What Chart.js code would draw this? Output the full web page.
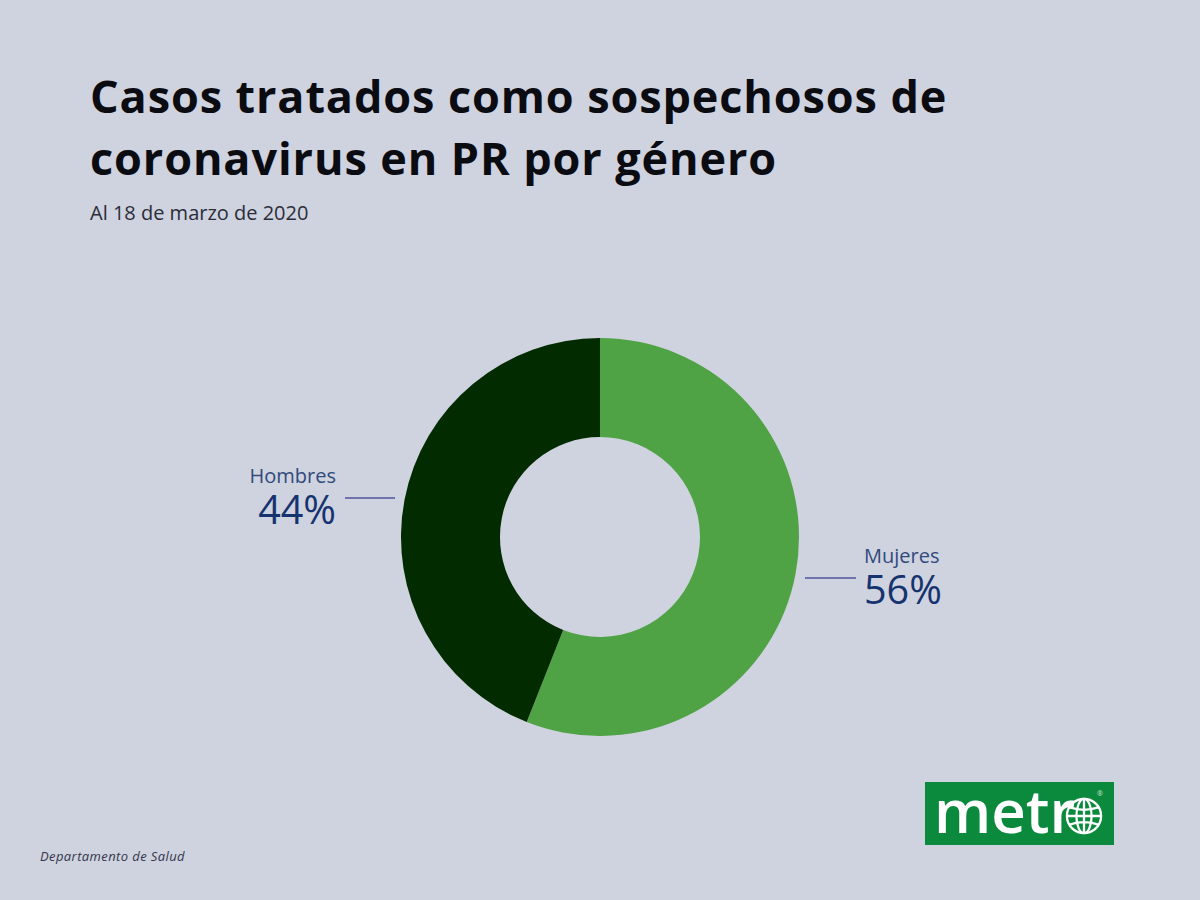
<!DOCTYPE html>
<html>
<head>
<meta charset="utf-8">
<title>Casos por género</title>
<script src="https://cdn.jsdelivr.net/npm/chart.js@4"></script>
<style>
  html, body { margin: 0; padding: 0; }
  body { width: 1200px; height: 900px; background: #cfd2df; position: relative; overflow: hidden; font-family: "Open Sans", sans-serif; }
  .abs { position: absolute; white-space: nowrap; }
  #title { left: 90px; top: 65px; font-size: 45px; line-height: 62px; font-weight: 700; color: #0a0c12; letter-spacing: .9px; }
  #subtitle { left: 90px; top: 201px; font-size: 20px; line-height: 24px; color: #2a2d38; }
  #source { left: 40px; top: 847px; font-size: 13px; line-height: 18px; font-style: italic; color: #33364a; letter-spacing: .4px; }
  #chartBox { left: 401px; top: 338px; width: 398px; height: 398px; }
  .cat { font-size: 20px; line-height: 22px; color: #2f4a7c; }
  .pct { font-size: 39.5px; line-height: 40px; color: #15336f; }
  .lead { height: 1.5px; background: #7073ad; }
  #logo { left: 925px; top: 782px; width: 189px; height: 63px; background: #0b8a3e; }
  #logoText { left: 9px; top: -12px; font-size: 60px; line-height: 80px; font-weight: 600; color: #fff; }
  #globe { left: 140px; top: 15px; }
  #reg { left: 172px; top: 8px; font-size: 7px; line-height: 8px; color: #cfe6d6; }
</style>
</head>
<body>
<div class="abs" id="title">Casos tratados como sospechosos de<br>coronavirus en PR por género</div>
<div class="abs" id="subtitle">Al 18 de marzo de 2020</div>
<div class="abs" id="chartBox"><canvas id="donut" width="398" height="398"></canvas></div>

<div class="abs cat" id="cat0" style="left:864px;top:545px"></div>
<div class="abs pct" id="pct0" style="left:864px;top:569px"></div>
<div class="abs lead" style="left:805px;top:577px;width:51px"></div>

<div class="abs cat" id="cat1" style="right:864px;top:465px"></div>
<div class="abs pct" id="pct1" style="right:864px;top:489px"></div>
<div class="abs lead" style="left:345px;top:497px;width:50px"></div>

<div class="abs" id="logo">
  <div class="abs" id="logoText">metr</div>
  <svg class="abs" id="globe" width="38" height="38" viewBox="0 0 40 40" fill="none" stroke="#fff" stroke-width="2.4">
    <circle cx="20" cy="20" r="18"/>
    <ellipse cx="20" cy="20" rx="8" ry="18"/>
    <path d="M20 2V38M2 20H38M5 11Q20 16 35 11M5 29Q20 24 35 29"/>
  </svg>
  <div class="abs" id="reg">®</div>
</div>
<div class="abs" id="source">Departamento de Salud</div>

<script>
const categories = ["Mujeres", "Hombres"]
const shares = [56, 44]
const sliceColors = ["#4fa345", "#032b00"]

// labels come from the same arrays as the slices
categories.forEach((name, i) => {
  document.getElementById("cat" + i).textContent = name
  document.getElementById("pct" + i).textContent = shares[i] + "%"
})

new Chart(document.getElementById("donut"), {
  type: "doughnut",
  data: {
    labels: categories,
    datasets: [{
      data: shares,
      backgroundColor: sliceColors,
      borderWidth: 0
    }]
  },
  options: {
    responsive: false,
    animation: false,
    cutout: 100,
    plugins: {
      legend: { display: false },
      tooltip: { enabled: false }
    }
  }
})
</script>
</body>
</html>
